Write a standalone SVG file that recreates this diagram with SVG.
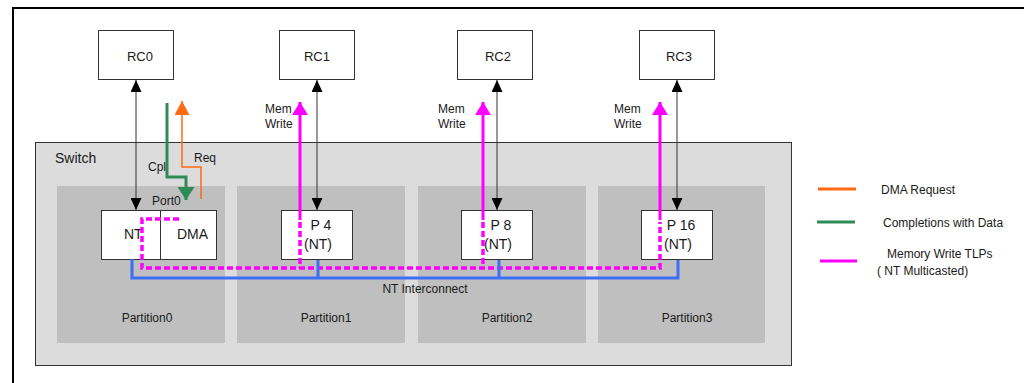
<svg xmlns="http://www.w3.org/2000/svg" width="1024" height="383" viewBox="0 0 1024 383">
<defs>
<style>
text{font-family:"Liberation Sans",Arial,sans-serif;fill:#1a1a1a}
.box{fill:#fff;stroke:#333;stroke-width:1}
.part{fill:#bfbfbf}
.lbl{font-size:12px}
.mid{text-anchor:middle}
.blk{stroke:#333;stroke-width:1;fill:none}
.mag{stroke:#ff00ff;stroke-width:3;fill:none}
.magd{stroke:#ff00ff;stroke-width:3.5;fill:none;stroke-dasharray:6 3}
.blue{stroke:#3c6ff5;stroke-width:3;fill:none}
</style>
<marker id="ab" viewBox="0 0 12 11" refX="12" refY="5.5" markerWidth="12" markerHeight="11" markerUnits="userSpaceOnUse" orient="auto-start-reverse"><path d="M0,0L12,5.5L0,11z" fill="#000"/></marker>
<marker id="am" viewBox="0 0 13 16" refX="13" refY="8" markerWidth="13" markerHeight="16" markerUnits="userSpaceOnUse" orient="auto"><path d="M0,0L13,8L0,16z" fill="#ff00ff"/></marker>
<marker id="ag" viewBox="0 0 13 17" refX="13" refY="8.5" markerWidth="13" markerHeight="17" markerUnits="userSpaceOnUse" orient="auto"><path d="M0,0L13,8.5L0,17z" fill="#2e8b57"/></marker>
<marker id="ao" viewBox="0 0 14 15" refX="14" refY="7.5" markerWidth="14" markerHeight="15" markerUnits="userSpaceOnUse" orient="auto"><path d="M0,0L14,7.5L0,15z" fill="#ff6a13"/></marker>
</defs>
<rect width="1024" height="383" fill="#fff"/>
<path d="M13,383V8H1024" fill="none" stroke="#000" stroke-width="2"/>

<g id="switch">
<rect x="35.5" y="142.5" width="756" height="223" fill="#dcdcdc" stroke="#333" stroke-width="1"/>
<text x="55" y="163" font-size="14">Switch</text>
</g>
<g id="partition0"><rect class="part" x="57" y="186" width="168" height="157"/><text class="lbl mid" x="147" y="322">Partition0</text></g>
<g id="partition1"><rect class="part" x="237" y="186" width="168" height="157"/><text class="lbl mid" x="326" y="322">Partition1</text></g>
<g id="partition2"><rect class="part" x="418" y="186" width="168" height="157"/><text class="lbl mid" x="507" y="322">Partition2</text></g>
<g id="partition3"><rect class="part" x="598" y="186" width="167" height="157"/><text class="lbl mid" x="687" y="322">Partition3</text></g>

<g id="rc0"><rect class="box" x="98.5" y="30.5" width="75" height="49"/><text class="mid" x="140" y="61" font-size="13">RC0</text></g>
<g id="rc1"><rect class="box" x="279.5" y="30.5" width="75" height="49"/><text class="mid" x="317" y="61" font-size="13">RC1</text></g>
<g id="rc2"><rect class="box" x="457.5" y="30.5" width="75" height="49"/><text class="mid" x="498" y="61" font-size="13">RC2</text></g>
<g id="rc3"><rect class="box" x="639.5" y="30.5" width="75" height="49"/><text class="mid" x="679" y="61" font-size="13">RC3</text></g>

<g id="port0">
<rect class="box" x="101.5" y="210.5" width="59" height="49"/>
<rect class="box" x="160.5" y="210.5" width="56" height="49"/>
<text x="124" y="239" font-size="14">NT</text>
<text x="177" y="239" font-size="14">DMA</text>
<text class="lbl" x="152" y="205">Port0</text>
</g>
<g id="p4"><rect class="box" x="281.5" y="210.5" width="71" height="49"/><text class="mid" x="321" y="230" font-size="14">P 4</text><text class="mid" x="318" y="249" font-size="14">(NT)</text></g>
<g id="p8"><rect class="box" x="461.5" y="210.5" width="71" height="49"/><text class="mid" x="501" y="230" font-size="14">P 8</text><text class="mid" x="498" y="249" font-size="14">(NT)</text></g>
<g id="p16"><rect class="box" x="641.5" y="210.5" width="71" height="49"/><text class="mid" x="681" y="230" font-size="14">P 16</text><text class="mid" x="678" y="249" font-size="14">(NT)</text></g>

<g id="connectors">
<path class="blk" d="M136,80V210" marker-start="url(#ab)" marker-end="url(#ab)"/>
<path class="blk" d="M317,80V210" marker-start="url(#ab)" marker-end="url(#ab)"/>
<path class="blk" d="M497,80V210" marker-start="url(#ab)" marker-end="url(#ab)"/>
<path class="blk" d="M677,80V210" marker-start="url(#ab)" marker-end="url(#ab)"/>

<path d="M167,103V177H186V200" fill="none" stroke="#2e8b57" stroke-width="3" marker-end="url(#ag)"/>
<path d="M201,199V167H182V101" fill="none" stroke="#ff6a13" stroke-width="1.5" marker-end="url(#ao)"/>

<path class="mag" d="M300,220V102" marker-end="url(#am)"/>
<path class="mag" d="M483,220V102" marker-end="url(#am)"/>
<path class="mag" d="M660,220V102" marker-end="url(#am)"/>

<path class="magd" d="M179,219H142V268H660V222"/>
<path class="magd" d="M300,222V268"/>
<path class="magd" d="M483,222V268"/>

<path class="blue" d="M132,259V278H678V260"/>
<path class="blue" d="M318,260V278"/>
<path class="blue" d="M499,260V278"/>

<text class="lbl" x="148" y="171">Cpl</text>
<text class="lbl" x="194" y="162">Req</text>
<text class="lbl" x="265" y="113">Mem</text><text class="lbl" x="265" y="128">Write</text>
<text class="lbl" x="438" y="113">Mem</text><text class="lbl" x="438" y="128">Write</text>
<text class="lbl" x="614" y="113">Mem</text><text class="lbl" x="614" y="128">Write</text>
<text class="lbl mid" x="425" y="293">NT Interconnect</text>
</g>

<g id="legend">
<path d="M818,189H856" stroke="#ff6a13" stroke-width="3"/>
<text class="lbl" x="881" y="194">DMA Request</text>
<path d="M817,222H855" stroke="#2e8b57" stroke-width="3"/>
<text class="lbl" x="883" y="227">Completions with Data</text>
<path d="M820,261H857" stroke="#ff00ff" stroke-width="3"/>
<text class="lbl" x="887" y="258">Memory Write TLPs</text>
<text class="lbl" x="877" y="275">( NT Multicasted)</text>
</g>
</svg>
